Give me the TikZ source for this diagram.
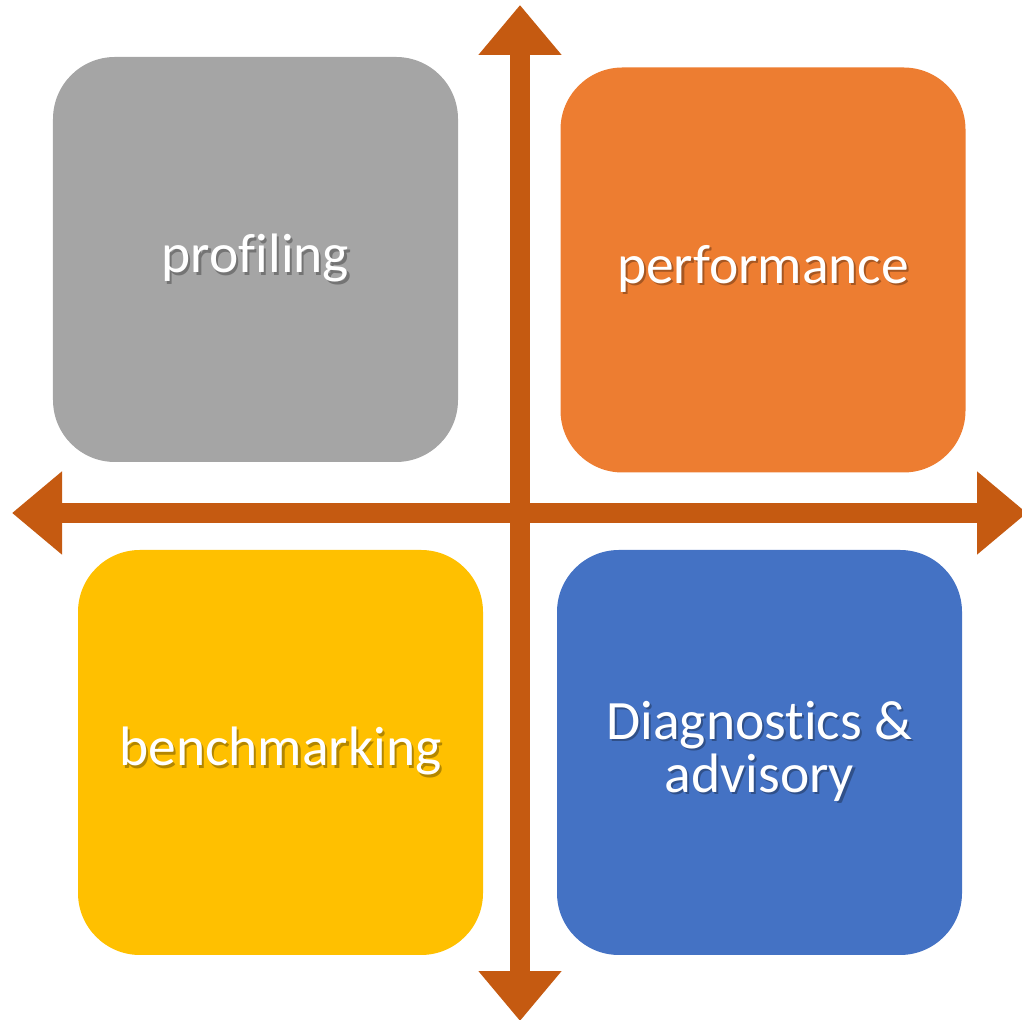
\documentclass[tikz,border=0pt]{standalone}
\usepackage{fontspec}
\setmainfont[Ligatures=NoCommon]{Carlito}
\usetikzlibrary{arrows.meta}

\definecolor{tilegray}{HTML}{A5A5A5}
\definecolor{tileorange}{HTML}{ED7D31}
\definecolor{tileyellow}{HTML}{FFC000}
\definecolor{tileblue}{HTML}{4472C4}
\definecolor{axisbrown}{HTML}{C55A11}

% white label with a small dark shadow
\newcommand{\shd}[2]{\rlap{\kern0.6pt\raisebox{-0.6pt}{\color{#1}#2}}#2}

\begin{document}
\begin{tikzpicture}[
	  x=1cm, y=-1cm,
	  tile/.style={rounded corners=0.62cm, minimum width=4.05cm, minimum height=4.05cm,
	    inner sep=0pt, text=white, align=center, font=\fontsize{15.8}{15}\selectfont},
	  axis/.style={line width=0.2cm, draw=axisbrown,
	    -{Triangle[width=0.8cm,length=0.5cm]}},
	]
	\useasboundingbox (0,0) rectangle (10.22,10.20);

	\coordinate (up) at (5.20,0.05);
	\coordinate (down) at (5.20,10.21);
	\coordinate (west) at (0.12,5.13);
	\coordinate (east) at (10.27,5.13);
	\coordinate (mid) at (5.20,5.13);

	\draw [axis] (mid) -- (up);
	\draw [axis] (mid) -- (down);
	\draw [axis] (mid) -- (west);
	\draw [axis] (mid) -- (east);

	\node [tile, fill=tilegray] (profiling) at (2.555,2.595)
	  {\shd{tilegray!70!black}{profiling}};
	\node [tile, fill=tileorange] (performance) at (7.63,2.70)
	  {\shd{tileorange!70!black}{performance}};
	\node [tile, fill=tileyellow] (benchmarking) at (2.805,7.525)
	  {\shd{tileyellow!70!black}{benchmarking}};
	\node [tile, fill=tileblue] (diagnostics) at (7.595,7.525)
	  {\shd{tileblue!70!black}{Diagnostics \&}\\\shd{tileblue!70!black}{advisory}};
\end{tikzpicture}
\end{document}
